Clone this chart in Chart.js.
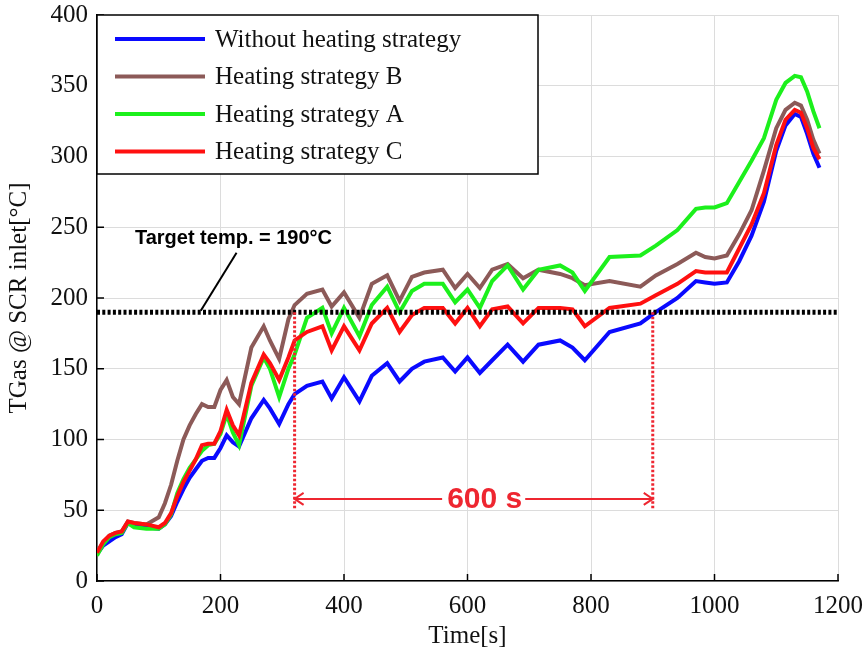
<!DOCTYPE html>
<html>
<head>
<meta charset="utf-8">
<script src="https://cdn.jsdelivr.net/npm/chart.js@4/dist/chart.umd.min.js"></script>
<style>
  html, body { margin: 0; padding: 0; background: #fff; }
  #wrap { width: 868px; height: 654px; }
</style>
</head>
<body>
<div id="wrap"><canvas id="myChart" width="868" height="654"></canvas></div>
<script>
// time stamps [s] shared by all four traces
var times = [0, 10, 20, 30, 40, 50, 60, 80, 100, 110, 120, 130, 140, 150, 160, 170, 180, 190, 200, 210,
  220, 230, 250, 270, 280, 295, 310, 320, 340, 365, 380, 400, 425, 445, 470, 490, 510, 530, 560, 580,
  600, 620, 640, 665, 690, 715, 750, 770, 790, 830, 880, 905, 940, 970, 985, 1000, 1020, 1040, 1060,
  1080, 1100, 1115, 1130, 1140, 1150, 1160, 1170];

// gas temperature at SCR inlet [°C]
var withoutHeating = [19, 25, 28, 31, 33, 41, 40, 38, 37, 40, 46, 56, 65, 73, 79, 85, 87, 87, 94, 103,
  98, 95, 115, 128, 122, 111, 125, 132, 138, 141, 129, 144, 127, 145, 154, 141, 150, 155, 158, 148,
  158, 147, 156, 167, 155, 167, 170, 165, 156, 176, 182, 190, 200, 212, 211, 210, 211, 226, 244,
  268, 304, 322, 330, 328, 316, 302, 292];
var strategyB = [20, 27, 32, 34, 35, 42, 41, 40, 45, 55, 68, 85, 100, 110, 118, 125, 123, 123, 135, 142,
  130, 125, 165, 180, 170, 157, 185, 195, 203, 206, 194, 204, 186, 210, 216, 198, 215, 218, 220, 207,
  217, 207, 220, 224, 214, 220, 217, 214, 209, 212, 208, 216, 224, 232, 229, 228, 230, 245, 262,
  290, 320, 333, 338, 336, 326, 312, 302];
var strategyA = [18, 26, 31, 33, 34, 41, 38, 37, 37, 40, 47, 62, 72, 80, 86, 92, 96, 97, 104, 118,
  105, 96, 138, 158, 150, 130, 150, 160, 186, 193, 175, 193, 173, 195, 208, 190, 205, 210, 210, 197,
  206, 193, 212, 223, 206, 220, 223, 218, 205, 229, 230, 237, 248, 263, 264, 264, 267, 282, 297,
  313, 340, 352, 357, 356, 346, 332, 320];
var strategyC = [20, 28, 32, 34, 35, 42, 41, 40, 38, 41, 48, 60, 70, 78, 86, 96, 97, 97, 106, 121,
  110, 103, 140, 160, 154, 142, 158, 170, 176, 180, 163, 180, 163, 182, 193, 176, 188, 193, 193, 182,
  193, 180, 192, 194, 182, 193, 193, 192, 180, 193, 196, 202, 210, 219, 218, 218, 218, 235, 252,
  274, 308, 326, 333, 331, 320, 306, 298];

var seriesNames = ['Without heating strategy', 'Heating strategy B', 'Heating strategy A', 'Heating strategy C'];
var seriesColors = ['#0a0aff', '#8c5a58', '#1cf01c', '#ff1010'];

var xTicks = { min: 0, max: 1200, step: 200 };
var yTicks = { min: 0, max: 400, step: 50 };

// annotation values
var targetTemp = 190;
var windowStart = 320;
var windowEnd = 900;
var windowArrowY = 58;
var windowLabel = '600 s';
var targetLabel = 'Target temp. = 190\u00b0C';
var targetLabelPos = { x: 221, y: 242 };
var leaderFrom = { x: 226, y: 232 };
var leaderTo = { x: 168, y: 191 };

var serif = '"Liberation Serif", "Times New Roman", serif';
var sans = '"Liberation Sans", Arial, sans-serif';

function toPoints(vals) {
  return times.map(function (t, i) { return { x: t, y: vals[i] }; });
}

var seriesData = [withoutHeating, strategyB, strategyA, strategyC];
var drawOrder = [2, 3, 1, 0];

var datasets = seriesData.map(function (vals, i) {
  return {
    label: seriesNames[i],
    data: toPoints(vals),
    borderColor: seriesColors[i],
    backgroundColor: seriesColors[i],
    borderWidth: 4,
    pointRadius: 0,
    tension: 0,
    order: drawOrder[i]
  };
});

var overlay = {
  id: 'overlay',
  afterDatasetsDraw: function (chart) {
    var c = chart.ctx;
    var xs = chart.scales.x, ys = chart.scales.y;
    var area = chart.chartArea;
    var px = function (v) { return xs.getPixelForValue(v); };
    var py = function (v) { return ys.getPixelForValue(v); };
    c.save();

    // target temperature line
    c.beginPath();
    c.setLineDash([3, 2.3]);
    c.lineWidth = 5;
    c.strokeStyle = '#000';
    c.moveTo(area.left, py(targetTemp));
    c.lineTo(area.right, py(targetTemp));
    c.stroke();

    // window markers
    c.setLineDash([2.5, 2]);
    c.lineWidth = 3;
    c.strokeStyle = '#ee2630';
    [windowStart, windowEnd].forEach(function (t) {
      c.beginPath();
      c.moveTo(px(t), py(targetTemp));
      c.lineTo(px(t), py(50));
      c.stroke();
    });
    c.setLineDash([]);

    // inside ticks
    c.strokeStyle = '#000';
    c.lineWidth = 1.5;
    for (var v = yTicks.min; v <= yTicks.max; v += yTicks.step) {
      c.beginPath();
      c.moveTo(area.left, py(v));
      c.lineTo(area.left + 7, py(v));
      c.stroke();
    }
    for (var t = xTicks.min; t <= xTicks.max; t += xTicks.step) {
      c.beginPath();
      c.moveTo(px(t), area.bottom);
      c.lineTo(px(t), area.bottom - 7);
      c.stroke();
    }

    // leader + target label
    c.beginPath();
    c.lineWidth = 2;
    c.moveTo(px(leaderFrom.x), py(leaderFrom.y));
    c.lineTo(px(leaderTo.x), py(leaderTo.y));
    c.stroke();
    c.fillStyle = '#000';
    c.font = 'bold 20px ' + sans;
    c.textAlign = 'center';
    c.textBaseline = 'middle';
    c.fillText(targetLabel, px(targetLabelPos.x), py(targetLabelPos.y));

    // 600 s arrow
    var ay = py(windowArrowY);
    var x0 = px(windowStart), x1 = px(windowEnd);
    var mid = (x0 + x1) / 2 + 11;
    c.font = 'bold 30px ' + sans;
    var tw = c.measureText(windowLabel).width;
    c.strokeStyle = '#ee2630';
    c.fillStyle = '#ee2630';
    c.lineWidth = 2;
    c.beginPath();
    c.moveTo(x0, ay); c.lineTo(mid - tw / 2 - 5, ay);
    c.moveTo(mid + tw / 2 + 3, ay); c.lineTo(x1, ay);
    c.moveTo(x0 + 9, ay - 6); c.lineTo(x0, ay); c.lineTo(x0 + 9, ay + 6);
    c.moveTo(x1 - 9, ay - 6); c.lineTo(x1, ay); c.lineTo(x1 - 9, ay + 6);
    c.stroke();
    c.fillText(windowLabel, mid, ay + 1);

    // legend box
    var lx = area.left, ly = area.top, lw = 441, lh = 159;
    c.fillStyle = '#fff';
    c.fillRect(lx, ly, lw, lh);
    c.strokeStyle = '#000';
    c.lineWidth = 1.5;
    c.strokeRect(lx, ly, lw, lh);
    c.font = '25px ' + serif;
    c.textAlign = 'left';
    chart.data.datasets.forEach(function (ds, i) {
      var rowY = ly + 24 + i * 37.5;
      c.beginPath();
      c.lineWidth = 4;
      c.strokeStyle = ds.borderColor;
      c.moveTo(lx + 18, rowY);
      c.lineTo(lx + 108, rowY);
      c.stroke();
      c.fillStyle = '#111';
      c.fillText(ds.label, lx + 118, rowY + 1);
    });
    c.restore();
  }
};

var ctx = document.getElementById('myChart').getContext('2d');
var chart = new Chart(ctx, {
  type: 'line',
  data: { datasets: datasets },
  plugins: [overlay],
  options: {
    responsive: false,
    animation: false,
    layout: { padding: { top: 15, right: 30, left: 0, bottom: 0 } },
    plugins: { legend: { display: false }, tooltip: { enabled: false } },
    scales: {
      x: {
        type: 'linear',
        min: xTicks.min,
        max: xTicks.max,
        afterFit: function (s) { s.height = 73; s.paddingLeft = 0; s.paddingRight = 0; },
        ticks: {
          stepSize: xTicks.step, color: '#111', font: { family: serif, size: 25 }, padding: 10, maxRotation: 0,
          callback: function (v) { return String(v); }
        },
        grid: { color: '#dcdcdc', lineWidth: 1, drawTicks: false },
        border: { color: '#000', width: 1.5 },
        title: { display: true, text: 'Time[s]', color: '#111', font: { family: serif, size: 25 }, padding: { top: 0, bottom: 3 } }
      },
      y: {
        min: yTicks.min,
        max: yTicks.max,
        afterFit: function (s) { s.width = 97; s.paddingTop = 0; s.paddingBottom = 0; },
        ticks: { stepSize: yTicks.step, color: '#111', font: { family: serif, size: 25 }, padding: 9 },
        grid: { color: '#dcdcdc', lineWidth: 1, drawTicks: false },
        border: { color: '#000', width: 1.5 },
        title: { display: true, text: 'TGas @ SCR inlet[\u00b0C]', color: '#111', font: { family: serif, size: 25 }, padding: { top: 4, bottom: 0 } }
      }
    }
  }
});
</script>
</body>
</html>
